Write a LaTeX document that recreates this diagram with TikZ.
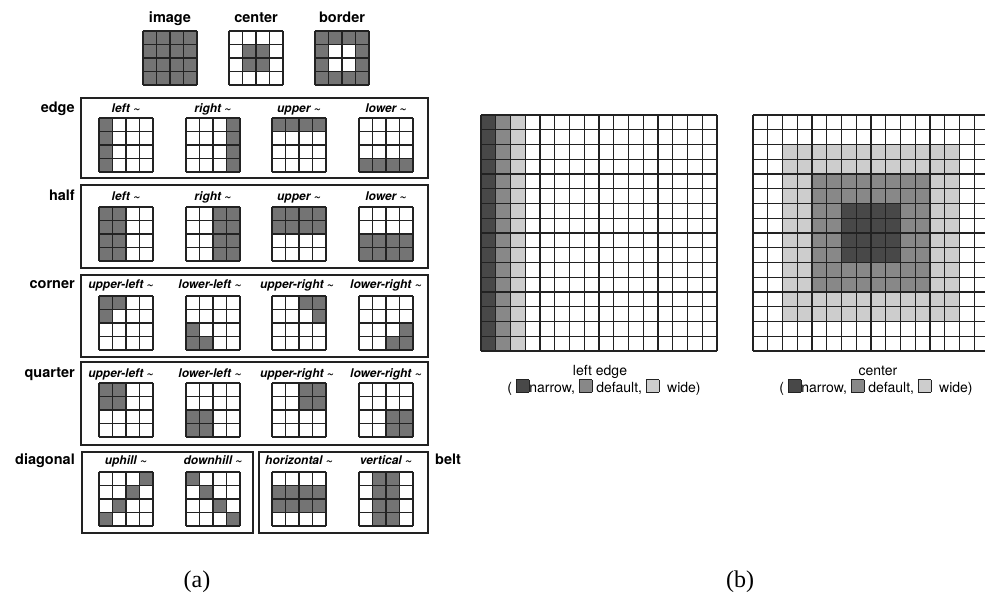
\documentclass[tikz,border=0pt]{standalone}
\usepackage{fontspec}
\setmainfont{TeX Gyre Heros}
\newfontfamily\capfont{Liberation Serif}
\definecolor{cellc}{HTML}{747474}
\definecolor{narrowc}{HTML}{484848}
\definecolor{defc}{HTML}{888888}
\definecolor{widec}{HTML}{CDCDCD}
\definecolor{inkc}{HTML}{222222}
\newcommand{\mgrid}[3]{%
  \begin{scope}[shift={(#1,#2)}]
    \foreach \cc/\rr in {#3}{\fill[cellc] (\cc*13.5,\rr*13.5) rectangle ++(13.5,13.5);}
    \foreach \ii in {0,...,4}{\draw[mgline] (\ii*13.5,0) -- (\ii*13.5,54); \draw[mgline] (0,\ii*13.5) -- (54,\ii*13.5);}
  \end{scope}}
\newcommand{\bgrid}[2]{%
  \begin{scope}[shift={(#1,#2)}]
    \foreach \ii in {0,...,16}{%
      \pgfmathtruncatemacro{\mm}{mod(\ii,4)}%
      \ifnum\mm=0 \def\lw{1.3pt}\else\def\lw{0.85pt}\fi
      \draw[inkc,line width=\lw] (\ii*14.75,0) -- (\ii*14.75,236);
      \draw[inkc,line width=\lw] (0,\ii*14.75) -- (236,\ii*14.75);}
  \end{scope}}
\newcommand{\lsq}[1]{{\setlength{\fboxsep}{0pt}\setlength{\fboxrule}{0.7pt}\fcolorbox{inkc}{#1}{\rule{0pt}{12pt}\hspace{12pt}}}}
\tikzset{
  mgline/.style={inkc,line width=1.6pt},
  panel/.style={draw=inkc,line width=1.5pt},
  toplab/.style={font=\bfseries\fontsize{14.5}{16}\selectfont,anchor=base,inner sep=0pt},
  rowlab/.style={font=\bfseries\fontsize{14.5}{16}\selectfont,anchor=base east,inner sep=0pt},
  sublab/.style={font=\bfseries\itshape\fontsize{12}{14}\selectfont,anchor=base,inner sep=0pt},
  blab/.style={font=\fontsize{14}{16}\selectfont,anchor=base,inner sep=0pt},
  caplab/.style={font=\capfont\fontsize{24}{26}\selectfont,anchor=base,inner sep=0pt}
}
\begin{document}
\begin{tikzpicture}[x=1pt,y=-1pt]
\useasboundingbox[fill=white] (0,0) rectangle (985,597);
% ---------- (a) top row ----------
\node[toplab] (limage) at (170,23) {image};
\node[toplab] (lcenter) at (256,23) {center};
\node[toplab] (lborder) at (342,23) {border};
\mgrid{143}{31}{0/0,1/0,2/0,3/0,0/1,1/1,2/1,3/1,0/2,1/2,2/2,3/2,0/3,1/3,2/3,3/3}
\mgrid{229}{31}{1/1,2/1,1/2,2/2}
\mgrid{315}{31}{0/0,1/0,2/0,3/0,0/1,3/1,0/2,3/2,0/3,1/3,2/3,3/3}
% ---------- edge ----------
\draw[panel] (81,98) rectangle (428,178);
\node[rowlab] (ledge) at (75,112) {edge};
\node[sublab] (e1) at (126,112) {left \textasciitilde};
\node[sublab] (e2) at (213,112) {right \textasciitilde};
\node[sublab] (e3) at (299,112) {upper \textasciitilde};
\node[sublab] (e4) at (386,112) {lower \textasciitilde};
\mgrid{99}{118}{0/0,0/1,0/2,0/3}
\mgrid{186}{118}{3/0,3/1,3/2,3/3}
\mgrid{272}{118}{0/0,1/0,2/0,3/0}
\mgrid{359}{118}{0/3,1/3,2/3,3/3}
% ---------- half ----------
\draw[panel] (81,185) rectangle (428,268);
\node[rowlab] (lhalf) at (75,200) {half};
\node[sublab] (h1) at (126,200) {left \textasciitilde};
\node[sublab] (h2) at (213,200) {right \textasciitilde};
\node[sublab] (h3) at (299,200) {upper \textasciitilde};
\node[sublab] (h4) at (386,200) {lower \textasciitilde};
\mgrid{99}{207}{0/0,1/0,0/1,1/1,0/2,1/2,0/3,1/3}
\mgrid{186}{207}{2/0,3/0,2/1,3/1,2/2,3/2,2/3,3/3}
\mgrid{272}{207}{0/0,1/0,2/0,3/0,0/1,1/1,2/1,3/1}
\mgrid{359}{207}{0/2,1/2,2/2,3/2,0/3,1/3,2/3,3/3}
% ---------- corner ----------
\draw[panel] (81,275) rectangle (428,357);
\node[rowlab] (lcorner) at (75,288) {corner};
\node[sublab] (c1) at (121,288) {upper-left \textasciitilde};
\node[sublab] (c2) at (210,288) {lower-left \textasciitilde};
\node[sublab] (c3) at (297,288) {upper-right \textasciitilde};
\node[sublab] (c4) at (386,288) {lower-right \textasciitilde};
\mgrid{99}{296}{0/0,1/0,0/1}
\mgrid{186}{296}{0/2,0/3,1/3}
\mgrid{272}{296}{2/0,3/0,3/1}
\mgrid{359}{296}{3/2,2/3,3/3}
% ---------- quarter ----------
\draw[panel] (81,362) rectangle (428,445);
\node[rowlab] (lquarter) at (75,377) {quarter};
\node[sublab] (q1) at (121,377) {upper-left \textasciitilde};
\node[sublab] (q2) at (210,377) {lower-left \textasciitilde};
\node[sublab] (q3) at (297,377) {upper-right \textasciitilde};
\node[sublab] (q4) at (386,377) {lower-right \textasciitilde};
\mgrid{99}{383}{0/0,1/0,0/1,1/1}
\mgrid{186}{383}{0/2,1/2,0/3,1/3}
\mgrid{272}{383}{2/0,3/0,2/1,3/1}
\mgrid{359}{383}{2/2,3/2,2/3,3/3}
% ---------- diagonal / belt ----------
\draw[panel] (82,452) rectangle (253,533);
\draw[panel] (259,452) rectangle (428,533);
\node[rowlab] (ldiag) at (75,464) {diagonal};
\node[toplab,anchor=base west] (lbelt) at (435,464) {belt};
\node[sublab] (d1) at (126,464) {uphill \textasciitilde};
\node[sublab] (d2) at (213,464) {downhill \textasciitilde};
\node[sublab] (d3) at (299,464) {horizontal \textasciitilde};
\node[sublab] (d4) at (386,464) {vertical \textasciitilde};
\mgrid{99}{472}{3/0,2/1,1/2,0/3}
\mgrid{186}{472}{0/0,1/1,2/2,3/3}
\mgrid{272}{472}{0/1,1/1,2/1,3/1,0/2,1/2,2/2,3/2}
\mgrid{359}{472}{1/0,2/0,1/1,2/1,1/2,2/2,1/3,2/3}
% ---------- (b) left edge ----------
\fill[narrowc] (481,115) rectangle ++(14.75,236);
\fill[defc] (495.75,115) rectangle ++(14.75,236);
\fill[widec] (510.5,115) rectangle ++(14.75,236);
\bgrid{481}{115}
\node[blab] (tleft) at (600,375) {left edge};
\node[blab] (legleft) at (604,392) {( \lsq{narrowc}narrow,\ \lsq{defc} default,\ \lsq{widec}\ \ wide)};
% ---------- (b) center ----------
\begin{scope}
\clip (740,100) rectangle (985,360);
\fill[widec] (753+2*14.75,115+2*14.75) rectangle ++(12*14.75,12*14.75);
\fill[defc] (753+4*14.75,115+4*14.75) rectangle ++(8*14.75,8*14.75);
\fill[narrowc] (753+6*14.75,115+6*14.75) rectangle ++(4*14.75,4*14.75);
\bgrid{753}{115}
\end{scope}
\node[blab] (tcenter) at (878,375) {center};
\node[blab] (legcenter) at (876,392) {( \lsq{narrowc}narrow,\ \lsq{defc} default,\ \lsq{widec}\ \ wide)};
% ---------- captions ----------
\node[caplab] (capa) at (197,587) {(a)};
\node[caplab] (capb) at (740,587) {(b)};
\end{tikzpicture}
\end{document}
